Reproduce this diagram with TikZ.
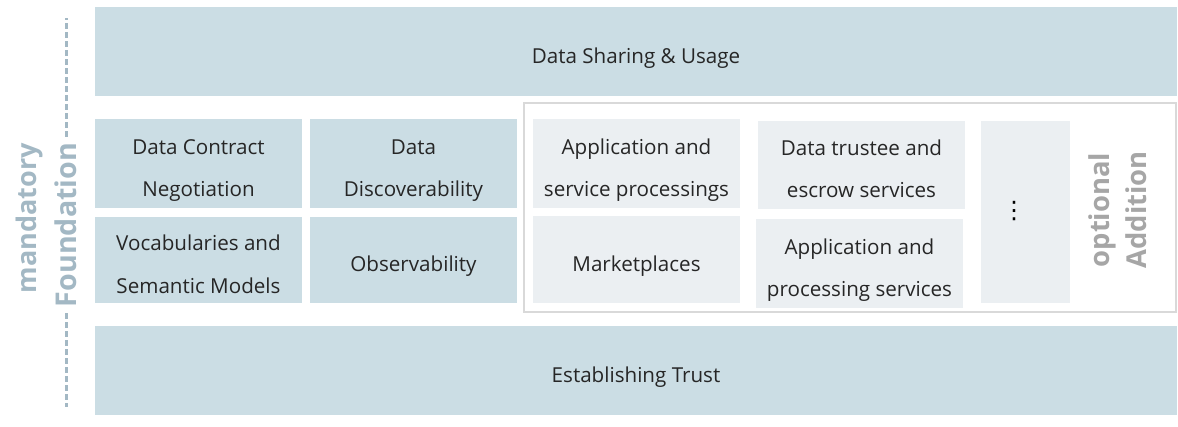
\documentclass[tikz,border=0pt]{standalone}
\usepackage{fontspec}
\setmainfont{Open Sans}
\newfontfamily\simbolos{DejaVu Sans}
\usetikzlibrary{positioning}
\definecolor{azulgris}{RGB}{203, 221, 228}
\definecolor{nieve}{RGB}{235, 239, 242}
\definecolor{marco}{RGB}{217, 217, 217}
\definecolor{plomo}{RGB}{166, 166, 166}
\definecolor{pizarra}{RGB}{163, 184, 196}
\definecolor{tinta}{RGB}{38, 38, 38}
\tikzset{
    capa/.style={rectangle, fill=azulgris, text=tinta, inner sep=0pt, align=center, text height=13pt, text depth=1.1pt, font=\fontsize{10.3}{21}\selectfont},
    extra/.style={capa, fill=nieve},
    doble/.style={text height=33pt, text depth=0pt},
    lateral/.style={rotate=90, align=center, inner sep=3pt, font=\bfseries\fontsize{13.5}{18.5}\selectfont},
    guia/.style={pizarra, line width=1.5pt, dash pattern=on 3pt off 1.5pt},
}
\begin{document}
\begin{tikzpicture}[x=0.5pt, y=-0.5pt]
            \useasboundingbox (0,0) rectangle (1178,427);

            % outer layers
            \node[capa, minimum width=541pt, minimum height=44.5pt] (usage) at (636,51.5) {Data Sharing \& Usage};
            \node[capa, minimum width=541pt, minimum height=44.5pt] (trust) at (636,370.5) {Establishing Trust};

            % mandatory blocks
            \node[capa, doble, minimum width=103.5pt, minimum height=44.5pt] (contract) at (198.5,163.5) {Data Contract\\Negotiation};
            \node[capa, doble, minimum width=103.5pt, minimum height=44.5pt] (discover) at (413.5,163.5) {Data\\Discoverability};
            \node[capa, doble, minimum width=103.5pt, minimum height=43pt] (vocab) at (198.5,260) {Vocabularies and\\Semantic Models};
            \node[capa, minimum width=103.5pt, minimum height=43pt] (observe) at (413.5,260) {Observability};

            % optional blocks
            \node[draw=marco, line width=1pt, minimum width=326pt, minimum height=104.5pt] (opcional) at (850,207.5) {};
            \node[extra, doble, minimum width=103.5pt, minimum height=44.5pt] (appserv) at (636.5,163.5) {Application and\\service processings};
            \node[extra, minimum width=103.5pt, minimum height=43.5pt] (market) at (636.5,259.5) {Marketplaces};
            \node[extra, doble, minimum width=103.5pt, minimum height=44pt] (trustee) at (861.5,165) {Data trustee and\\escrow services};
            \node[extra, doble, minimum width=103.5pt, minimum height=44.5pt] (appproc) at (859.5,263.5) {Application and\\processing services};
            \node[extra, minimum width=44.5pt, minimum height=91pt] (more) at (1025.5,212) {};
            \node[text=black, inner sep=0pt, font=\simbolos\fontsize{12}{12}\selectfont] (dots) at (1014,211.5) {⋮};

            % side labels
            \node[lateral, text=plomo, font=\bfseries\fontsize{13.7}{18.5}\selectfont] (addition) at (1118,210) {optional\\Addition};
            \node[lateral, text=pizarra] (mand) at (29,218) {mandatory};
            \node[lateral, text=pizarra, font=\bfseries\fontsize{14.3}{18.5}\selectfont] (found) at (66,225) {Foundation};

            \coordinate (ftop) at (found.east |- 0,18);
            \coordinate (fbot) at (found.west |- 0,407);
            \draw[guia] (found.east) -- (ftop);
            \draw[guia] (found.west) -- (fbot);
        \end{tikzpicture}
\end{document}
